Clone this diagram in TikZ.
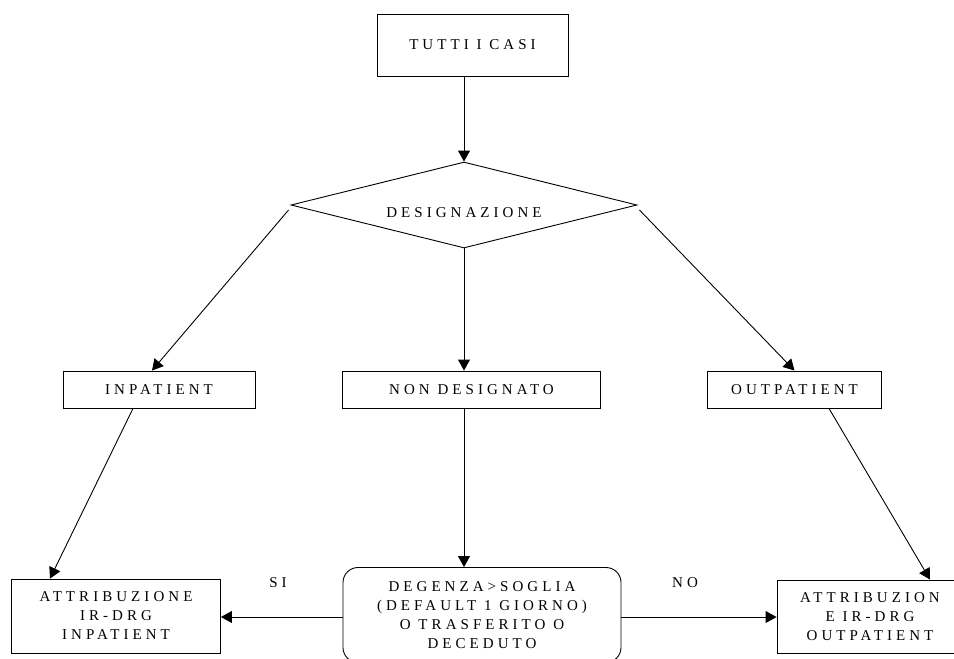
\documentclass[tikz,border=0pt]{standalone}
\usepackage{fontspec}
\setmainfont{Liberation Serif}[LetterSpace=27]
\usetikzlibrary{shapes.geometric,arrows.meta,calc}
\begin{document}
\begin{tikzpicture}[x=1pt,y=-1pt,
  every node/.style={font=\fontsize{15}{19}\selectfont},
  boxn/.style={draw,line width=0.9pt,inner sep=0pt,align=center},
  rbox/.style={boxn,rounded corners=15pt},
  dia/.style={draw,line width=0.9pt,shape=diamond,aspect=4,inner sep=0pt,minimum width=346pt,minimum height=86pt,text height=24pt,text depth=0pt},
  lbl/.style={inner sep=0pt},
  conn/.style={line width=0.9pt,-{Triangle[length=11pt,width=12pt]}}]
\useasboundingbox (0,0) rectangle (954,659);
\node[boxn,minimum width=191pt,minimum height=62pt] (all) at (472.5,45) {TUTTI I CASI};
\node[dia] (des) at (464,205) {DESIGNAZIONE};
\node[boxn,minimum width=192pt,minimum height=37pt] (inp) at (159,389.5) {INPATIENT};
\node[boxn,minimum width=258pt,minimum height=37pt] (non) at (471.5,389.5) {NON DESIGNATO};
\node[boxn,minimum width=174pt,minimum height=37pt] (out) at (794.5,389.5) {OUTPATIENT};
\node[boxn,minimum width=209pt,minimum height=74pt] (ain) at (116,616) {ATTRIBUZIONE\\IR-DRG\\INPATIENT};
\node[rbox,minimum width=278pt,minimum height=95pt] (deg) at (482,615) {DEGENZA>SOGLIA\\(DEFAULT 1 GIORNO)\\O TRASFERITO O\\DECEDUTO};
\node[boxn,minimum width=186pt,minimum height=73pt] (aout) at (870,616.5) {ATTRIBUZION\\E IR-DRG\\OUTPATIENT};
\node[lbl] (si) at (278,583) {SI};
\node[lbl] (no) at (685,583) {NO};
\draw[conn] (all.south -| des.north) -- (des.north);
\draw[conn] ($(des.west)+(-2,5)$) -- ($(inp.north)+(-7,0)$);
\draw[conn] (des.south) -- (des.south |- non.north);
\draw[conn] ($(des.east)+(2,5)$) -- (out.north);
\draw[conn] ($(inp.south)+(-26,0)$) -- ($(ain.north)+(-66,0)$);
\draw[conn] (non.south -| des.south) -- (deg.north -| des.south);
\draw[conn] ($(out.south)+(34.5,0)$) -- ($(aout.north)+(60,0)$);
\draw[conn] (deg.west |- 0,617) -- (ain.east |- 0,617);
\draw[conn] (deg.east |- 0,617) -- (aout.west |- 0,617);
\end{tikzpicture}
\end{document}
